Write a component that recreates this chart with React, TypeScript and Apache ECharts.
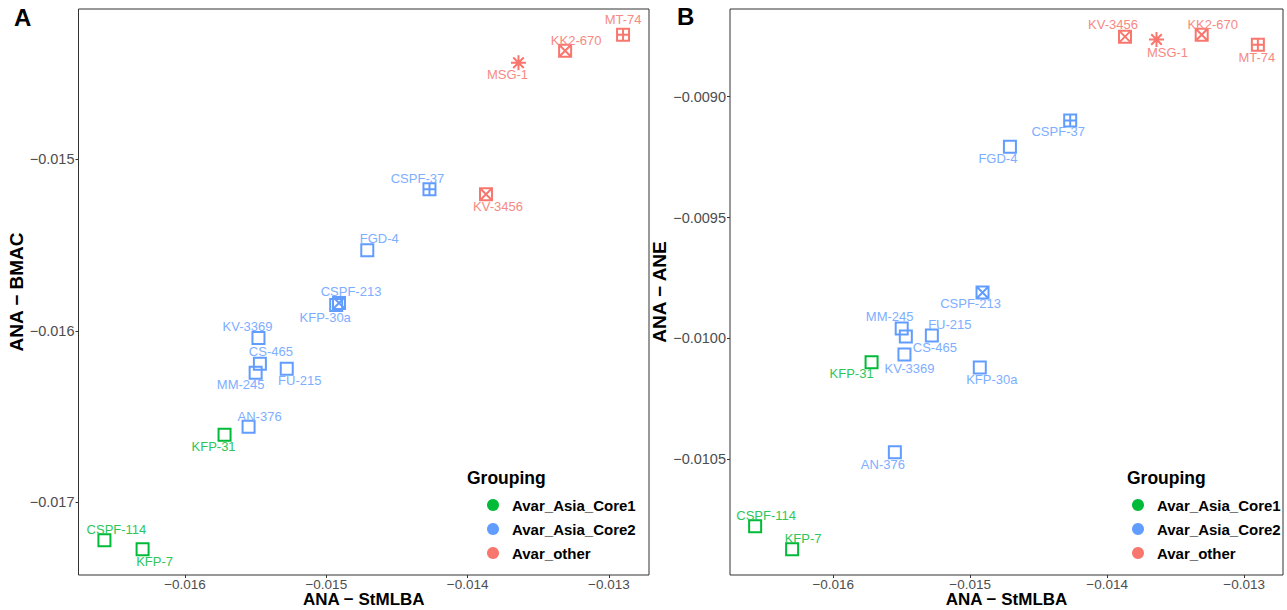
import React, { useEffect, useRef } from 'react';
import * as echarts from 'echarts';

// ---- data ----
const samples = ['CSPF-114', 'KFP-7', 'KFP-31', 'AN-376', 'MM-245', 'CS-465', 'FU-215', 'KV-3369', 'KFP-30a', 'CSPF-213', 'FGD-4', 'CSPF-37', 'KV-3456', 'MSG-1', 'KK2-670', 'MT-74'];
const groups = ['Avar_Asia_Core1', 'Avar_Asia_Core1', 'Avar_Asia_Core1', 'Avar_Asia_Core2', 'Avar_Asia_Core2', 'Avar_Asia_Core2', 'Avar_Asia_Core2', 'Avar_Asia_Core2', 'Avar_Asia_Core2', 'Avar_Asia_Core2', 'Avar_Asia_Core2', 'Avar_Asia_Core2', 'Avar_other', 'Avar_other', 'Avar_other', 'Avar_other'];
const shapes = ['square', 'square', 'square', 'square', 'square', 'square', 'square', 'square', 'square', 'squareCross', 'square', 'squarePlus', 'squareCross', 'asterisk', 'squareCross', 'squarePlus'];
const xStMLBA = [-0.01657, -0.01630, -0.01572, -0.01555, -0.01550, -0.01547, -0.01528, -0.01548, -0.01493, -0.01491, -0.01471, -0.01427, -0.01387, -0.01364, -0.01331, -0.01290];
const yBMAC = [-0.017221, -0.017273, -0.016605, -0.016558, -0.016244, -0.016192, -0.016221, -0.016041, -0.015849, -0.015837, -0.015529, -0.015174, -0.015203, -0.014436, -0.014366, -0.014273];
const yANE = [-0.010777, -0.010872, -0.010099, -0.010471, -0.009959, -0.009992, -0.009988, -0.010066, -0.010120, -0.009810, -0.009207, -0.009099, -0.008752, -0.008764, -0.008744, -0.008785];
const groupNames = ['Avar_Asia_Core1', 'Avar_Asia_Core2', 'Avar_other'];
const xTicks = [-0.016, -0.015, -0.014, -0.013];
const yTicksA = [-0.017, -0.016, -0.015];
const yTicksB = [-0.0105, -0.01, -0.0095, -0.009];

// ---- styles ----
const COLORS: Record<string, string> = {
  Avar_Asia_Core1: '#00BA38',
  Avar_Asia_Core2: '#619CFF',
  Avar_other: '#F8766D',
};
const LABEL_COLORS: Record<string, string> = {
  Avar_Asia_Core1: '#2EC65A',
  Avar_Asia_Core2: '#7EAEFF',
  Avar_other: '#F68A83',
};
const SYMBOLS: Record<string, string> = {
  square: 'path://M0,0L10,0L10,10L0,10Z',
  squareCross: 'path://M0,0L10,0L10,10L0,10Z M0,0L10,10 M10,0L0,10',
  squarePlus: 'path://M0,0L10,0L10,10L0,10Z M5,0L5,10 M0,5L10,5',
  asterisk: 'path://M5,0L5,10 M0,5L10,5 M1.5,1.5L8.5,8.5 M8.5,1.5L1.5,8.5',
};
const SYMBOL_SIZE: Record<string, number> = { square: 12, squareCross: 12, squarePlus: 12, asterisk: 15 };

const labelOffsetA: Record<string, number[]> = {
  'MT-74': [0, -15], 'KK2-670': [11, -10], 'MSG-1': [-11, 12], 'KV-3456': [12, 12],
  'CSPF-37': [-12, -11], 'FGD-4': [12, -12], 'CSPF-213': [12, -11], 'KFP-30a': [-11, 12],
  'KV-3369': [-11, -11], 'CS-465': [11, -12], 'MM-245': [-15, 12], 'FU-215': [13, 12],
  'AN-376': [11, -10], 'KFP-31': [-11, 12], 'CSPF-114': [12, -11], 'KFP-7': [12, 12],
};
const labelOffsetB: Record<string, number[]> = {
  'KV-3456': [-12, -12], 'MSG-1': [11, 13], 'KK2-670': [11, -10], 'MT-74': [-1, 13],
  'CSPF-37': [-12, 11], 'FGD-4': [-12, 12], 'CSPF-213': [-12, 11], 'MM-245': [-12, -12],
  'FU-215': [18, -11], 'CS-465': [29, 11], 'KV-3369': [5, 14], 'KFP-31': [-20, 11],
  'KFP-30a': [12, 12], 'AN-376': [-12, 12], 'CSPF-114': [11, -11], 'KFP-7': [11, -11],
};

const FONT = "'Liberation Sans', Arial, Helvetica, sans-serif";

function expandRange(vals: number[]) {
  const mn = Math.min(...vals);
  const mx = Math.max(...vals);
  const d = (mx - mn) * 0.05;
  return [mn - d, mx + d];
}

const fmt = (digits: number) => (v: number) => (v < 0 ? '\u2212' : '') + Math.abs(v).toFixed(digits);

export default function App() {
  const ref = useRef<HTMLDivElement>(null);
  useEffect(() => {
    if (!ref.current) return;
    const chart = echarts.init(ref.current, undefined, { renderer: 'svg' });
    const xr = expandRange(xStMLBA);
    const yrA = expandRange(yBMAC);
    const yrB = expandRange(yANE);

    const grids = [
      { left: 78.5, top: 9, width: 570.5, height: 566 },
      { left: 730, top: 9, width: 553, height: 566 },
    ];

    const makeX = (idx: number) => ({
      type: 'value', gridIndex: idx, min: xr[0], max: xr[1],
      name: 'ANA \u2212 StMLBA', nameLocation: 'middle', nameGap: 24, nameMoveOverlap: false,
      nameTextStyle: { fontSize: 17, lineHeight: 17, fontWeight: 'bold', color: '#000', fontFamily: FONT, verticalAlign: 'middle' },
      axisLine: { show: false },
      splitLine: { show: false },
      axisTick: { show: true, length: 3, lineStyle: { color: '#333' }, customValues: xTicks },
      axisLabel: { customValues: xTicks, formatter: fmt(3), color: '#4D4D4D', fontSize: 13.5, lineHeight: 13, margin: 3, fontFamily: FONT },
    });
    const makeY = (idx: number, yr: number[], ticks: number[], digits: number, name: string, gap: number) => ({
      type: 'value', gridIndex: idx, min: yr[0], max: yr[1],
      name, nameLocation: 'middle', nameGap: gap,
      nameTextStyle: { fontSize: 19, fontWeight: 'bold', color: '#000', fontFamily: FONT },
      axisLine: { show: false },
      splitLine: { show: false },
      axisTick: { show: true, length: 3, lineStyle: { color: '#333' }, customValues: ticks },
      axisLabel: { customValues: ticks, formatter: fmt(digits), color: '#4D4D4D', fontSize: 14.5, margin: 4, fontFamily: FONT },
    });

    const series: any[] = [];
    [0, 1].forEach((p) => {
      const ys = p === 0 ? yBMAC : yANE;
      const offs = p === 0 ? labelOffsetA : labelOffsetB;
      groupNames.forEach((g) => {
        const data = samples
          .map((s, i) => ({ s, i }))
          .filter(({ i }) => groups[i] === g)
          .map(({ s, i }) => ({
            name: s,
            value: [xStMLBA[i], ys[i]],
            symbol: SYMBOLS[shapes[i]],
            symbolSize: SYMBOL_SIZE[shapes[i]],
            label: { offset: offs[s] || [0, -12] },
          }));
        series.push({
          type: 'scatter', name: g, xAxisIndex: p, yAxisIndex: p,
          data,
          itemStyle: { color: 'rgba(0,0,0,0)', borderColor: COLORS[g], borderWidth: 2, opacity: 1 },
          label: {
            show: true, position: 'inside', formatter: '{b}',
            color: LABEL_COLORS[g], fontSize: 13, fontFamily: FONT,
          },
          emphasis: { disabled: true },
        });
      });
    });

    const legendData = groupNames.map((g) => ({ name: g, itemStyle: { color: COLORS[g], borderWidth: 0 } }));
    const legendBase = {
      orient: 'vertical', icon: 'circle', itemWidth: 12, itemHeight: 12, itemGap: 8, padding: 0,
      selectedMode: false,
      textStyle: { fontSize: 15, fontWeight: 'bold', color: '#000', fontFamily: FONT, lineHeight: 16, padding: [0, 0, 0, 8] },
      data: legendData,
    };

    chart.setOption({
      animation: false,
      grid: grids.map((g) => ({ ...g, show: true, borderColor: '#333', borderWidth: 1, backgroundColor: '#fff', containLabel: false, outerBoundsMode: 'none' })),
      xAxis: [makeX(0), makeX(1)],
      yAxis: [
        makeY(0, yrA, yTicksA, 3, 'ANA \u2212 BMAC', 51),
        makeY(1, yrB, yTicksB, 4, 'ANA \u2212 ANE', 57),
      ],
      legend: [
        { ...legendBase, left: 487, top: 497 },
        { ...legendBase, left: 1132, top: 497 },
      ],
      graphic: [
        { type: 'text', left: 14, top: 5, style: { text: 'A', fontSize: 24, fontWeight: 'bold', fill: '#000', fontFamily: FONT } },
        { type: 'text', left: 677, top: 4, style: { text: 'B', fontSize: 24, fontWeight: 'bold', fill: '#000', fontFamily: FONT } },
        { type: 'text', left: 467, top: 469, style: { text: 'Grouping', fontSize: 17.5, fontWeight: 'bold', fill: '#000', fontFamily: FONT } },
        { type: 'text', left: 1127, top: 469, style: { text: 'Grouping', fontSize: 17.5, fontWeight: 'bold', fill: '#000', fontFamily: FONT } },
      ],
      series,
    });
    return () => chart.dispose();
  }, []);
  return <div ref={ref} style={{ position: 'absolute', left: 0, top: 0, width: 1287, height: 610 }} />;
}
